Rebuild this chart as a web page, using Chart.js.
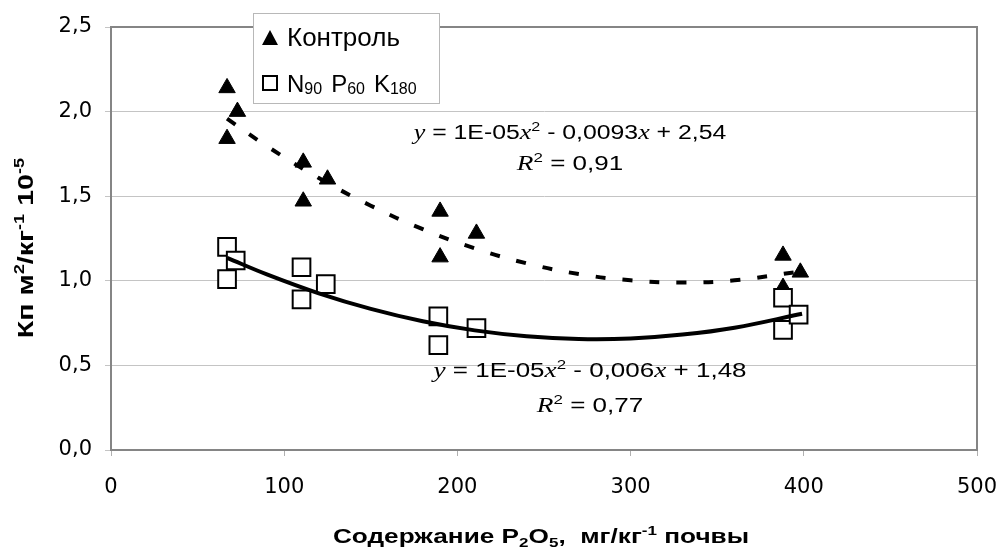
<!DOCTYPE html>
<html><head><meta charset="utf-8">
<script src="https://cdn.jsdelivr.net/npm/chart.js@4"></script>
<style>html,body{margin:0;padding:0;background:#fff}#wrap{width:999px;height:552px;position:relative}</style>
</head><body><div id="wrap"><canvas id="c" width="999" height="552"></canvas></div>
<script>
// ---- data ----
const controlX = [67, 67, 73, 111, 111, 125, 190, 190, 211, 388, 398, 388];
const controlY = [2.14, 1.84, 2.00, 1.70, 1.47, 1.60, 1.41, 1.14, 1.28, 1.15, 1.05, 0.96];
const npkX = [67, 67, 72, 110, 110, 124, 189, 189, 211, 388, 388, 397];
const npkY = [1.20, 1.01, 1.12, 1.08, 0.89, 0.98, 0.79, 0.62, 0.72, 0.90, 0.71, 0.80];
// trend lines
const trendControlX = [67, 90, 120, 150, 180, 210, 240, 270, 300, 330, 360, 398];
const trendControlY = [1.958, 1.796, 1.607, 1.444, 1.305, 1.192, 1.103, 1.040, 1.003, 0.990, 1.003, 1.055];
const trendNpkX = [67, 90, 120, 150, 180, 210, 240, 270, 300, 330, 360, 399];
const trendNpkY = [1.136, 1.038, 0.926, 0.834, 0.761, 0.707, 0.672, 0.656, 0.659, 0.682, 0.723, 0.805];
const xTicks = [0, 100, 200, 300, 400, 500];
const yTicks = [0, 0.5, 1.0, 1.5, 2.0, 2.5];
const seriesNames = ['Контроль', 'N90 P60 K180'];
const eqControl = 'y = 1E-05x2 - 0,0093x + 2,54';
const r2Control = 'R2 = 0,91';
const eqNpk = 'y = 1E-05x2 - 0,006x + 1,48';
const r2Npk = 'R2 = 0,77';

const pts = (xs, ys) => xs.map((x, i) => ({x: x, y: ys[i]}));

const SANS = '"Liberation Sans", Arial, sans-serif';
const SERIF = '"Liberation Serif", "Times New Roman", serif';
const TICKFONT = '"DejaVu Sans", sans-serif';

// runs: [text, font, dy]
const B = 'bold 20px ' + SANS, Bs = 'bold 13px ' + SANS;
const B2 = 'bold 22px ' + SANS, B2s = 'bold 14px ' + SANS;
const xTitleRuns = [['Содержание P', B, 0], ['2', Bs, 4], ['O', B, 0], ['5', Bs, 4], [',  мг/кг', B, 0], ['-1', Bs, -8], [' почвы', B, 0]];
const yTitleRuns = [['Кп м', B2, 0], ['2', B2s, -9], ['/кг', B2, 0], ['-1', B2s, -9], [' 10', B2, 0], ['-5', B2s, -9]];

function eqRuns(s) {
  const runs = [];
  const N = '20px ' + SANS;
  for (let i = 0; i < s.length; i++) {
    const ch = s[i];
    if (ch === 'y' || ch === 'x' || ch === 'R') {
      runs.push([ch, 'italic 21px ' + SERIF, 0]);
      if ((ch === 'x' || ch === 'R') && s[i + 1] === '2') { runs.push(['2', '13px ' + SANS, -8]); i++; }
    } else {
      const last = runs[runs.length - 1];
      if (last && last[1] === N) last[0] += ch; else runs.push([ch, N, 0]);
    }
  }
  return runs;
}
// draw styled runs centred at cx, with a horizontal stretch sx, optional rotation
function drawRuns(ctx, runs, cx, baseY, sx, rot) {
  ctx.save();
  ctx.translate(cx, baseY);
  if (rot) ctx.rotate(rot);
  ctx.scale(sx, 1);
  let total = 0;
  runs.forEach(r => { ctx.font = r[1]; r.w = ctx.measureText(r[0]).width; total += r.w; });
  let x = -total / 2;
  ctx.textAlign = 'left'; ctx.textBaseline = 'alphabetic'; ctx.fillStyle = '#000';
  runs.forEach(r => { ctx.font = r[1]; ctx.fillText(r[0], x, r[2]); x += r.w; });
  ctx.restore();
}

const overlay = {
  id: 'overlay',
  beforeDatasetsDraw(chart) {
    const {ctx, chartArea: a} = chart;
    ctx.save();
    ctx.strokeStyle = '#858585'; ctx.lineWidth = 2;
    ctx.strokeRect(a.left, a.top, a.right - a.left, a.bottom - a.top);
    ctx.restore();
  },
  afterDraw(chart) {
    const ctx = chart.ctx;
    const a = chart.chartArea;
    ctx.save();
    // axis titles
    drawRuns(ctx, xTitleRuns, 541, 543, 1.31, 0);
    drawRuns(ctx, yTitleRuns, 33, 248, 1.3, -Math.PI / 2);
    // equations
    drawRuns(ctx, eqRuns(eqControl), 570, 139, 1.24, 0);
    drawRuns(ctx, eqRuns(r2Control), 570, 170, 1.3, 0);
    drawRuns(ctx, eqRuns(eqNpk), 590, 377, 1.3, 0);
    drawRuns(ctx, eqRuns(r2Npk), 590, 412, 1.3, 0);
    // legend box
    ctx.fillStyle = '#fff'; ctx.fillRect(253, 13, 186, 90);
    ctx.strokeStyle = '#b8b8b8'; ctx.lineWidth = 1;
    ctx.strokeRect(253.5, 13.5, 186, 90);
    // triangle marker
    ctx.fillStyle = '#000';
    ctx.beginPath(); ctx.moveTo(270, 30); ctx.lineTo(278, 45); ctx.lineTo(262, 45); ctx.closePath(); ctx.fill();
    // square marker
    ctx.strokeStyle = '#000'; ctx.lineWidth = 2;
    ctx.strokeRect(263, 76, 14, 14);
    // legend texts
    ctx.textAlign = 'left'; ctx.textBaseline = 'alphabetic';
    ctx.font = '26px ' + SANS;
    ctx.fillText(seriesNames[0], 287, 46);
    const parts = seriesNames[1].split(' ');
    let x = 287;
    parts.forEach(p => {
      const m = p.match(/^([A-Z]+)(\d+)$/);
      ctx.font = '24px ' + SANS; ctx.fillText(m[1], x, 92); x += ctx.measureText(m[1]).width;
      ctx.font = '16px ' + SANS; ctx.fillText(m[2], x, 94); x += ctx.measureText(m[2]).width + 9;
    });
    ctx.restore();
  }
};

new Chart(document.getElementById('c'), {
  type: 'scatter',
  data: {
    datasets: [
      {label: 'trend ' + seriesNames[0], data: pts(trendControlX, trendControlY), showLine: true, borderColor: '#000',
       borderWidth: 4, borderDash: [10, 17], pointRadius: 0, tension: 0.4, order: 0, fill: false},
      {label: 'trend ' + seriesNames[1], data: pts(trendNpkX, trendNpkY), showLine: true, borderColor: '#000',
       borderWidth: 4, pointRadius: 0, tension: 0.4, order: 0, fill: false},
      {label: seriesNames[1], data: pts(npkX, npkY), pointStyle: 'rect', pointRadius: 12.5, pointHoverRadius: 12.5,
       backgroundColor: '#fff', borderColor: '#000', borderWidth: 2, order: 1},
      {label: seriesNames[0], data: pts(controlX, controlY), pointStyle: 'triangle', pointRadius: 9.5, pointHoverRadius: 9.5,
       backgroundColor: '#000', borderColor: '#000', borderWidth: 1, order: 2}
    ]
  },
  options: {
    responsive: false, animation: false, devicePixelRatio: 1,
    layout: {padding: {top: 27, right: 22, left: 0, bottom: 0}},
    plugins: {legend: {display: false}, tooltip: {enabled: false}},
    scales: {
      x: {
        type: 'linear', min: 0, max: 500,
        afterBuildTicks: s => { s.ticks = xTicks.map(v => ({value: v})); },
        afterFit: s => { s.height = 102; s.paddingLeft = 0; s.paddingRight = 0; },
        ticks: {color: '#000', font: {family: TICKFONT, size: 21}, padding: 19},
        grid: {drawOnChartArea: false, drawTicks: true, tickLength: 6, color: '#b0b0b0'},
        border: {color: '#858585', width: 2}
      },
      y: {
        min: 0, max: 2.5,
        afterBuildTicks: s => { s.ticks = yTicks.map(v => ({value: v})); },
        afterFit: s => { s.width = 111; s.paddingTop = 0; s.paddingBottom = 0; },
        ticks: {color: '#000', font: {family: TICKFONT, size: 21}, padding: 13,
                callback: v => v.toFixed(1).replace('.', ',')},
        grid: {color: '#c4c4c4', lineWidth: 1, tickLength: 6, drawTicks: true},
        border: {color: '#858585', width: 2}
      }
    }
  },
  plugins: [overlay]
});
</script></body></html>
